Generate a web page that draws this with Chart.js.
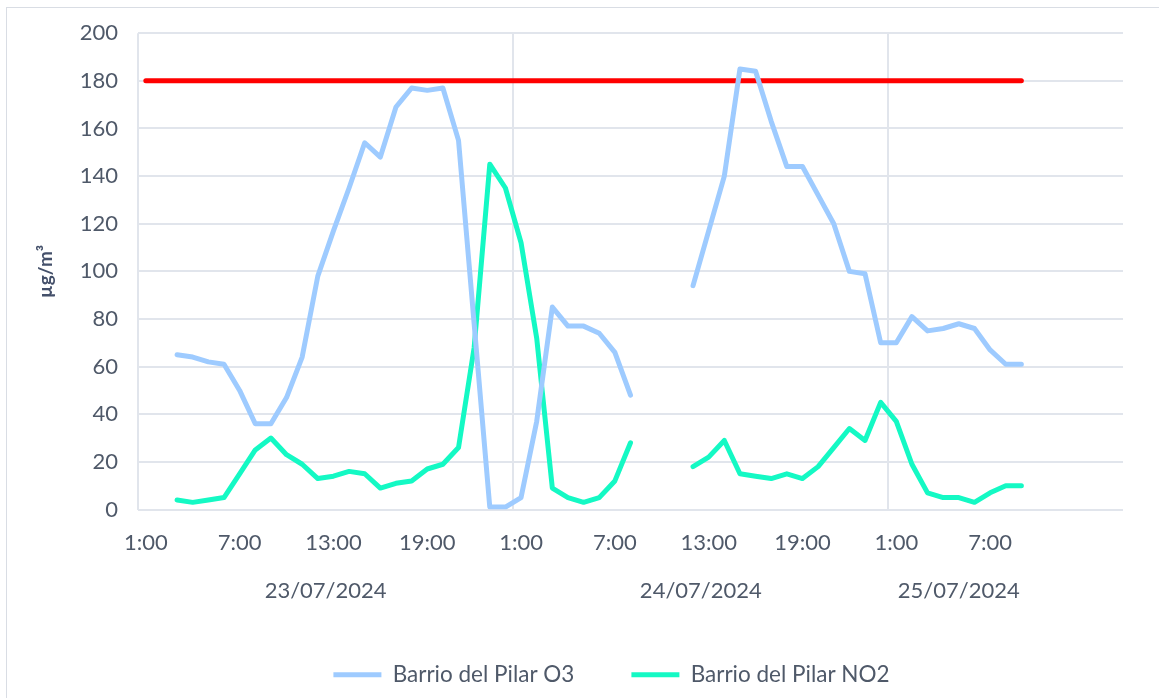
<!DOCTYPE html>
<html>
<head>
<meta charset="utf-8">
<script src="https://cdn.jsdelivr.net/npm/chart.js@4/dist/chart.umd.min.js"></script>
<style>
  html, body { margin: 0; padding: 0; background: #fff; overflow: hidden; }
  #frame { position: absolute; left: 6px; top: 7px; width: 1170px; height: 720px; border: 1px solid #d9dde4; }
  #chart { position: absolute; left: 0; top: 0; }
</style>
</head>
<body>
<div id="frame"></div>
<canvas id="chart" width="1159" height="698"></canvas>
<script>
// hourly categories, 23/07 1:00 .. 25/07 9:00, then empty slots to the axis end
var hours = [
    '1:00', '2:00', '3:00', '4:00', '5:00', '6:00', '7:00', '8:00', '9:00', '10:00', '11:00', '12:00',
    '13:00', '14:00', '15:00', '16:00', '17:00', '18:00', '19:00', '20:00', '21:00', '22:00', '23:00', '0:00',
    '1:00', '2:00', '3:00', '4:00', '5:00', '6:00', '7:00', '8:00', '9:00', '10:00', '11:00', '12:00',
    '13:00', '14:00', '15:00', '16:00', '17:00', '18:00', '19:00', '20:00', '21:00', '22:00', '23:00', '0:00',
    '1:00', '2:00', '3:00', '4:00', '5:00', '6:00', '7:00', '8:00', '9:00',
    '', '', '', '', '', ''
];

var dates = ['23/07/2024', '24/07/2024', '25/07/2024'];
var hoursPerDate = [24, 24, 9];

var o3 = [
    null, null, 65, 64, 62, 61, 50, 36, 36, 47, 64, 98,
    117, 135, 154, 148, 169, 177, 176, 177, 155, 78, 1, 1,
    5, 37, 85, 77, 77, 74, 66, 48, null, null, null, 94,
    117, 140, 185, 184, 163, 144, 144, 132, 120, 100, 99, 70,
    70, 81, 75, 76, 78, 76, 67, 61, 61,
    null, null, null, null, null, null
];

var no2 = [
    null, null, 4, 3, 4, 5, 15, 25, 30, 23, 19, 13,
    14, 16, 15, 9, 11, 12, 17, 19, 26, 68, 145, 135,
    112, 72, 9, 5, 3, 5, 12, 28, null, null, null, 18,
    22, 29, 15, 14, 13, 15, 13, 18, 26, 34, 29, 45,
    37, 19, 7, 5, 5, 3, 7, 10, 10,
    null, null, null, null, null, null
];

var limit = [
    180, 180, 180, 180, 180, 180, 180, 180, 180, 180, 180, 180,
    180, 180, 180, 180, 180, 180, 180, 180, 180, 180, 180, 180,
    180, 180, 180, 180, 180, 180, 180, 180, 180, 180, 180, 180,
    180, 180, 180, 180, 180, 180, 180, 180, 180, 180, 180, 180,
    180, 180, 180, 180, 180, 180, 180, 180, 180,
    null, null, null, null, null, null
];

var textColor = '#4f5969';
var gridColor = '#e1e5ec';

// second row of the category axis: one date under each day
var dateRow = {
    id: 'dateRow',
    afterDraw: function (chart) {
        var x = chart.scales.x;
        var ctx = chart.ctx;
        ctx.save();
        ctx.font = '22px Lato';
        ctx.fillStyle = textColor;
        ctx.textAlign = 'center';
        ctx.textBaseline = 'middle';
        var start = 0;
        for (var i = 0; i < dates.length; i++) {
            var end = start + hoursPerDate[i] - 1;
            var cx = (x.getPixelForValue(start) + x.getPixelForValue(end)) / 2;
            ctx.fillText(dates[i], cx, x.top + 81);
            start += hoursPerDate[i];
        }
        ctx.restore();
    }
};

// legend sits a bit right of centre in the original
var legendShift = {
    id: 'legendShift',
    afterLayout: function (chart) {
        chart.legend.left += 50;
        chart.legend.right += 50;
    }
};

Chart.defaults.font.family = 'Lato';
Chart.defaults.color = textColor;

var ctx = document.getElementById('chart').getContext('2d');
var myChart = new Chart(ctx, {
    type: 'line',
    data: {
        labels: hours,
        datasets: [{
            label: 'Barrio del Pilar O3',
            data: o3,
            borderColor: '#9ecbff',
            backgroundColor: '#9ecbff',
            borderWidth: 5,
            borderCapStyle: 'round',
            borderJoinStyle: 'round',
            pointRadius: 0,
            tension: 0
        }, {
            label: 'Barrio del Pilar NO2',
            data: no2,
            borderColor: '#14f9c4',
            backgroundColor: '#14f9c4',
            borderWidth: 5,
            borderCapStyle: 'round',
            borderJoinStyle: 'round',
            pointRadius: 0,
            tension: 0
        }, {
            label: 'limit',
            data: limit,
            borderColor: '#ff0000',
            backgroundColor: '#ff0000',
            borderWidth: 5,
            borderCapStyle: 'round',
            pointRadius: 0,
            tension: 0
        }]
    },
    options: {
        responsive: false,
        animation: false,
        layout: { padding: { top: 32, right: 36, bottom: 2, left: 0 } },
        plugins: {
            tooltip: { enabled: false },
            legend: {
                position: 'bottom',
                labels: {
                    usePointStyle: true,
                    pointStyle: 'line',
                    pointStyleWidth: 48,
                    padding: 57,
                    color: textColor,
                    font: { size: 22.5 },
                    filter: function (item) { return item.text !== 'limit'; }
                }
            }
        },
        scales: {
            x: {
                offset: true,
                afterFit: function (scale) { scale.height = 97; },
                border: { display: false },
                grid: {
                    offset: true,
                    drawTicks: false,
                    lineWidth: 2,
                    color: function (c) {
                        return (c.index === 0 || c.index === 24 || c.index === 48) ? gridColor : 'rgba(0,0,0,0)';
                    }
                },
                ticks: {
                    autoSkip: false,
                    maxRotation: 0,
                    padding: 20,
                    font: { size: 22 },
                    callback: function (value, index) {
                        return index % 6 === 0 ? hours[index] : '';
                    }
                }
            },
            y: {
                min: 0,
                max: 200,
                afterFit: function (scale) { scale.width = 138; },
                border: { display: false },
                grid: { color: gridColor, lineWidth: 2, drawTicks: false },
                ticks: { stepSize: 20, padding: 20, font: { size: 22 } },
                title: {
                    display: true,
                    text: 'µg/m³',
                    color: '#44506a',
                    font: { size: 19, weight: 'bold' },
                    padding: { top: 34, bottom: 0 }
                }
            }
        }
    },
    plugins: [dateRow, legendShift]
});
</script>
</body>
</html>
